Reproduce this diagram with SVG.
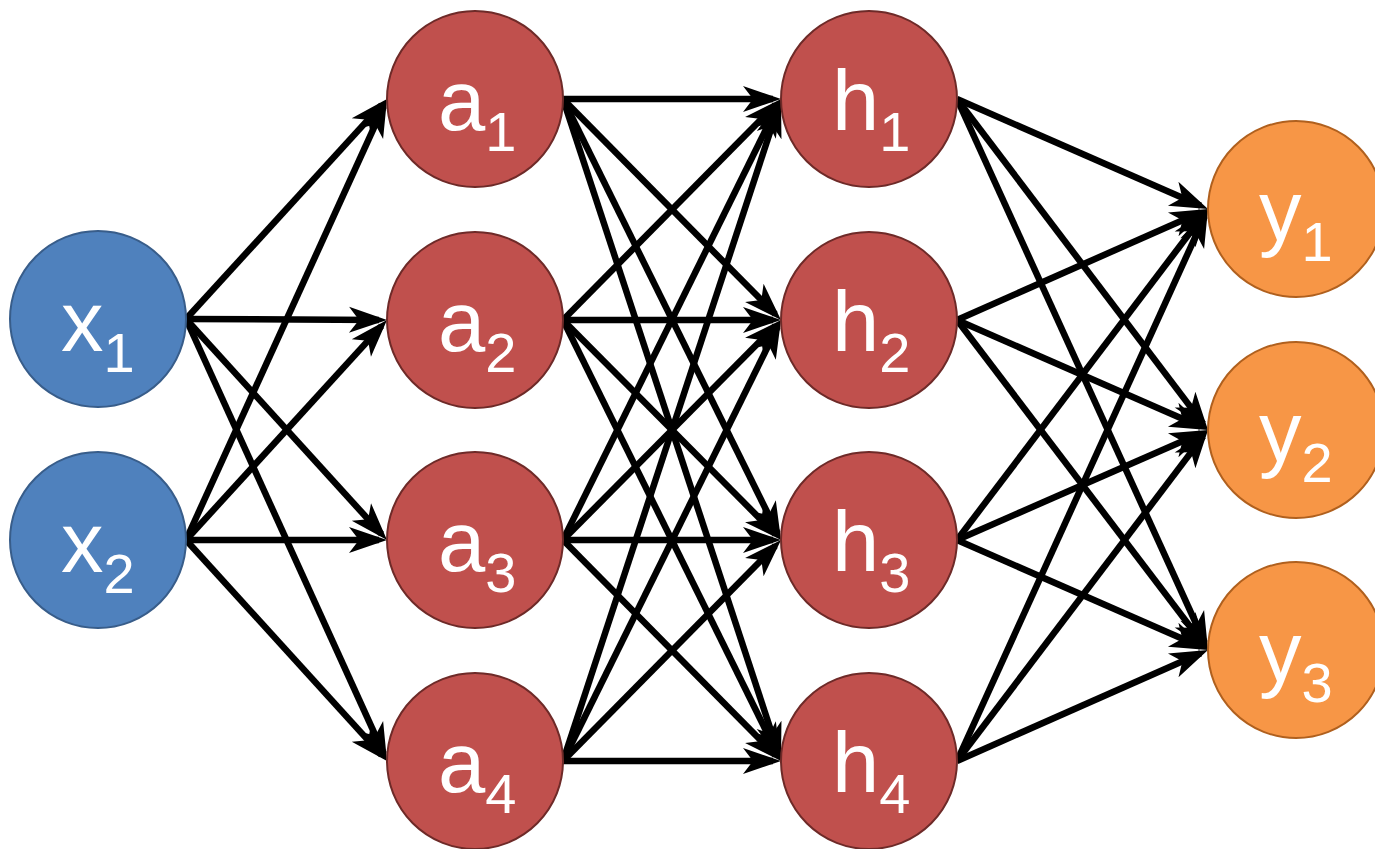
<svg xmlns="http://www.w3.org/2000/svg" width="1375" height="849" viewBox="0 0 1375 849">
<style>
.c line{stroke:#000;stroke-width:6.5;marker-end:url(#ah)}
.in{fill:#4F81BD;stroke:#385D8A;stroke-width:2}
.hid{fill:#C0504D;stroke:#6E2A28;stroke-width:2}
.out{fill:#F79646;stroke:#B0601E;stroke-width:2}
text{font-family:"Liberation Sans",Arial,sans-serif;font-size:85px;fill:#fff}
.s{font-size:56px}
</style>
<defs>
<marker id="ah" markerUnits="userSpaceOnUse" orient="auto" refX="0" refY="0" markerWidth="60" markerHeight="60" overflow="visible">
<path d="M8,0 L-30,-13 L-20,0 L-30,13 Z" fill="#000"/>
</marker>
</defs>
<rect width="1375" height="849" fill="#fff"/>
<g id="connectors" class="c">
<line x1="186" y1="319" x2="381.6" y2="104.9"/>
<line x1="186" y1="319" x2="379" y2="320"/>
<line x1="186" y1="319" x2="381.6" y2="534.1"/>
<line x1="186" y1="319" x2="383.7" y2="753.7"/>
<line x1="186" y1="540" x2="383.7" y2="106.3"/>
<line x1="186" y1="540" x2="381.6" y2="325.9"/>
<line x1="186" y1="540" x2="379" y2="540"/>
<line x1="186" y1="540" x2="381.6" y2="755.1"/>
<line x1="563" y1="99" x2="773" y2="99"/>
<line x1="563" y1="99" x2="775.4" y2="314.3"/>
<line x1="563" y1="99" x2="777.45" y2="532.83"/>
<line x1="563" y1="99" x2="778.5" y2="753.4"/>
<line x1="563" y1="320" x2="775.4" y2="104.7"/>
<line x1="563" y1="320" x2="773" y2="320"/>
<line x1="563" y1="320" x2="775.4" y2="534.3"/>
<line x1="563" y1="320" x2="777.45" y2="753.83"/>
<line x1="563" y1="540" x2="777.45" y2="106.17"/>
<line x1="563" y1="540" x2="775.4" y2="325.7"/>
<line x1="563" y1="540" x2="773" y2="540"/>
<line x1="563" y1="540" x2="775.4" y2="755.3"/>
<line x1="563" y1="761" x2="778.5" y2="106.6"/>
<line x1="563" y1="761" x2="777.45" y2="327.17"/>
<line x1="563" y1="761" x2="775.4" y2="545.7"/>
<line x1="563" y1="761" x2="773" y2="761"/>
<line x1="957" y1="99" x2="1200.67" y2="205.79"/>
<line x1="957" y1="99" x2="1203.17" y2="423.63"/>
<line x1="957" y1="99" x2="1204.68" y2="642.72"/>
<line x1="957" y1="320" x2="1200.68" y2="212.24"/>
<line x1="957" y1="320" x2="1200.67" y2="426.79"/>
<line x1="957" y1="320" x2="1203.17" y2="643.63"/>
<line x1="957" y1="540" x2="1203.17" y2="215.37"/>
<line x1="957" y1="540" x2="1200.67" y2="433.21"/>
<line x1="957" y1="540" x2="1200.67" y2="646.79"/>
<line x1="957" y1="761" x2="1204.68" y2="216.28"/>
<line x1="957" y1="761" x2="1203.17" y2="436.37"/>
<line x1="957" y1="761" x2="1200.68" y2="653.24"/>
</g>
<g id="x1"><circle class="in" cx="98" cy="319" r="88"/><text x="61" y="351">x<tspan class="s" dy="21">1</tspan></text></g>
<g id="x2"><circle class="in" cx="98" cy="540" r="88"/><text x="61" y="572">x<tspan class="s" dy="21">2</tspan></text></g>
<g id="a1"><circle class="hid" cx="475" cy="99" r="88"/><text x="438" y="130">a<tspan class="s" dy="21">1</tspan></text></g>
<g id="a2"><circle class="hid" cx="475" cy="320" r="88"/><text x="438" y="351">a<tspan class="s" dy="21">2</tspan></text></g>
<g id="a3"><circle class="hid" cx="475" cy="540" r="88"/><text x="438" y="571">a<tspan class="s" dy="21">3</tspan></text></g>
<g id="a4"><circle class="hid" cx="475" cy="761" r="88"/><text x="438" y="792">a<tspan class="s" dy="21">4</tspan></text></g>
<g id="h1"><circle class="hid" cx="869" cy="99" r="88"/><text x="832" y="130">h<tspan class="s" dy="21">1</tspan></text></g>
<g id="h2"><circle class="hid" cx="869" cy="320" r="88"/><text x="832" y="351">h<tspan class="s" dy="21">2</tspan></text></g>
<g id="h3"><circle class="hid" cx="869" cy="540" r="88"/><text x="832" y="571">h<tspan class="s" dy="21">3</tspan></text></g>
<g id="h4"><circle class="hid" cx="869" cy="761" r="88"/><text x="832" y="792">h<tspan class="s" dy="21">4</tspan></text></g>
<g id="y1"><circle class="out" cx="1296" cy="209" r="88"/><text x="1259" y="240">y<tspan class="s" dy="21">1</tspan></text></g>
<g id="y2"><circle class="out" cx="1296" cy="430" r="88"/><text x="1259" y="461">y<tspan class="s" dy="21">2</tspan></text></g>
<g id="y3"><circle class="out" cx="1296" cy="650" r="88"/><text x="1259" y="681">y<tspan class="s" dy="21">3</tspan></text></g>
</svg>
